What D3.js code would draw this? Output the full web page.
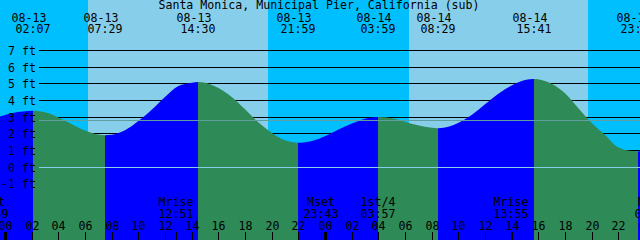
<!DOCTYPE html>
<html>
<head>
<meta charset="utf-8">
<script src="https://cdn.jsdelivr.net/npm/d3@7"></script>
<style>
  body { margin: 0; background: #fff; }
  svg { display: block; }
  text { font-family: "DejaVu Sans Mono", monospace; font-size: 11.6px; fill: #000; }
</style>
</head>
<body>
<svg id="chart" width="640" height="240"></svg>
<script>
var title = "Santa Monica, Municipal Pier, California (sub)";

// tide curve, hours from 08-13 00:00 and height in feet
var curveHours = [-1, 0, 1, 2, 2.12, 3, 4, 5, 6, 7, 7.48, 8, 9, 10, 11, 12, 13, 14, 14.5,
    15, 16, 17, 18, 19, 20, 21, 21.98, 23, 24, 25, 26, 27, 27.98, 29, 30, 31, 32, 32.48,
    33, 34, 35, 36, 37, 38, 39, 39.68, 40, 41, 42, 43, 44, 45, 46, 47, 47.5, 48, 49];
var curveFeet = [2.88, 3.12, 3.30, 3.38, 3.38, 3.28, 2.99, 2.57, 2.19, 1.95, 1.90, 1.93, 2.20, 2.74, 3.45, 4.20, 4.85, 5.06, 5.10,
    5.06, 4.75, 4.18, 3.46, 2.70, 2.04, 1.60, 1.45, 1.56, 1.84, 2.23, 2.61, 2.90, 3.00, 2.92, 2.72, 2.50, 2.35, 2.33,
    2.37, 2.64, 3.13, 3.76, 4.38, 4.90, 5.22, 5.28, 5.26, 4.98, 4.42, 3.55, 2.62, 1.92, 1.18, 0.96, 0.95, 0.97, 1.10];

// high / low tide events
var tideHours = [2.12, 7.48, 14.5, 21.98, 27.98, 32.48, 39.68, 47.5];
var tideKinds = ["H", "L", "H", "L", "H", "L", "H", "L"];
var tideDates = ["08-13", "08-13", "08-13", "08-13", "08-14", "08-14", "08-14", "08-14"];
var tideTimes = ["02:07", "07:29", "14:30", "21:59", "03:59", "08:29", "15:41", "23:30"];

// daylight intervals
var sunriseHours = [6.2, 30.3];
var sunsetHours = [19.7, 43.7];

// moon events along the bottom
var moonHours = [-1.02, 12.85, 23.72, 27.95, 37.92, 48.55];
var moonNames = ["Mset", "Mrise", "Mset", "1st/4", "Mrise", "Mset"];
var moonTimes = ["22:59", "12:51", "23:43", "03:57", "13:55", "00:33"];

var feetTicks = [7, 6, 5, 4, 3, 2, 1, 0, -1];
var hourTicks = d3.range(0, 49, 2);
var mslFeet = 2.8;

var svg = d3.select("#chart");
var width = 640, height = 240;

var x = d3.scaleLinear().domain([0, 48]).rangeRound([5, 645]);
var y = d3.scaleLinear().domain([0, 6]).range([167, 67]);

// snap a feet value to a pixel row
var row = function(ft) {
    return Math.floor(y(ft) + 0.01) + 0.5;
}

// night background with daylight bands
svg.append("rect")
    .attr("width", width)
    .attr("height", height)
    .attr("fill", "#00bfff");

svg.selectAll("rect.day")
    .data(sunriseHours)
    .enter()
    .append("rect")
    .attr("class", "day")
    .attr("x", function(d) { return x(d); })
    .attr("y", 0)
    .attr("width", function(d, i) { return x(sunsetHours[i]) - x(d); })
    .attr("height", height)
    .attr("fill", "#87ceeb");

// feet grid lines (hidden under the water)
svg.selectAll("line.grid")
    .data(feetTicks.filter(function(d) { return d > 0; }))
    .enter()
    .append("line")
    .attr("class", "grid")
    .attr("x1", 39)
    .attr("x2", width)
    .attr("y1", row)
    .attr("y2", row)
    .attr("stroke", "#000")
    .attr("stroke-width", 1);

// water: blue while rising, green while falling
var points = curveHours.map(function(t, i) { return { t: t, ft: curveFeet[i] }; });

var area = d3.area()
    .x(function(d) { return x(d.t); })
    .y0(height)
    .y1(function(d) { return y(d.ft); })
    .curve(d3.curveMonotoneX);

var bounds = [-2].concat(tideHours).concat([50]);
var defs = svg.append("defs");

for (var i = 0; i < bounds.length - 1; i++) {
    var rising = i < tideKinds.length ? tideKinds[i] == "H" : true;
    defs.append("clipPath")
        .attr("id", "seg" + i)
        .append("rect")
        .attr("x", x(bounds[i]))
        .attr("y", 0)
        .attr("width", x(bounds[i + 1]) - x(bounds[i]))
        .attr("height", height);

    svg.append("path")
        .datum(points)
        .attr("d", area)
        .attr("fill", rising ? "#0000ff" : "#2e8b57")
        .attr("clip-path", "url(#seg" + i + ")");
}

// mean sea level and datum lines
svg.append("line")
    .attr("x1", 39).attr("x2", width)
    .attr("y1", row(mslFeet))
    .attr("y2", row(mslFeet))
    .attr("stroke", "#5f9ea0");

svg.append("line")
    .attr("x1", 39).attr("x2", width)
    .attr("y1", row(0))
    .attr("y2", row(0))
    .attr("stroke", "#87ceeb");

// feet labels
svg.selectAll("text.ft")
    .data(feetTicks)
    .enter()
    .append("text")
    .attr("class", "ft")
    .attr("x", 36)
    .attr("y", function(d) { return row(d) + 4; })
    .attr("text-anchor", "end")
    .text(function(d) { return d + " ft"; });

// title
svg.append("text")
    .attr("x", 319)
    .attr("y", 9)
    .attr("text-anchor", "middle")
    .text(title);

// tide event labels at the top
var tideLabel = svg.selectAll("g.tide")
    .data(tideHours)
    .enter()
    .append("g")
    .attr("class", "tide");

tideLabel.append("text")
    .attr("x", function(d) { return x(d) - 4; })
    .attr("y", 21.5)
    .attr("text-anchor", "middle")
    .text(function(d, i) { return tideDates[i]; });

tideLabel.append("text")
    .attr("x", function(d) { return x(d); })
    .attr("y", 33)
    .attr("text-anchor", "middle")
    .text(function(d, i) { return tideTimes[i]; });

// hour axis along the bottom
var hourAxis = d3.axisTop(x)
    .tickValues(hourTicks)
    .tickSize(8)
    .tickPadding(2.5)
    .tickFormat(function(d) { return String(d % 24).padStart(2, "0"); });

var axisG = svg.append("g")
    .attr("transform", "translate(0," + height + ")")
    .call(hourAxis);

axisG.select(".domain").remove();
axisG.selectAll(".tick line")
    .attr("stroke", "#000")
    .attr("stroke-width", function(d) { return d % 24 == 0 ? 3 : 1; });

// moon events
svg.selectAll("line.moon")
    .data(moonHours)
    .enter()
    .append("line")
    .attr("class", "moon")
    .attr("x1", function(d) { return x(d) + 0.5; })
    .attr("x2", function(d) { return x(d) + 0.5; })
    .attr("y1", 232)
    .attr("y2", height)
    .attr("stroke", "#000");

var moonLabel = svg.selectAll("g.moon")
    .data(moonHours)
    .enter()
    .append("g")
    .attr("class", "moon");

moonLabel.append("text")
    .attr("x", function(d) { return x(d); })
    .attr("y", 206)
    .attr("text-anchor", "middle")
    .text(function(d, i) { return moonNames[i]; });

moonLabel.append("text")
    .attr("x", function(d) { return x(d); })
    .attr("y", 218)
    .attr("text-anchor", "middle")
    .text(function(d, i) { return moonTimes[i]; });
</script>
</body>
</html>
